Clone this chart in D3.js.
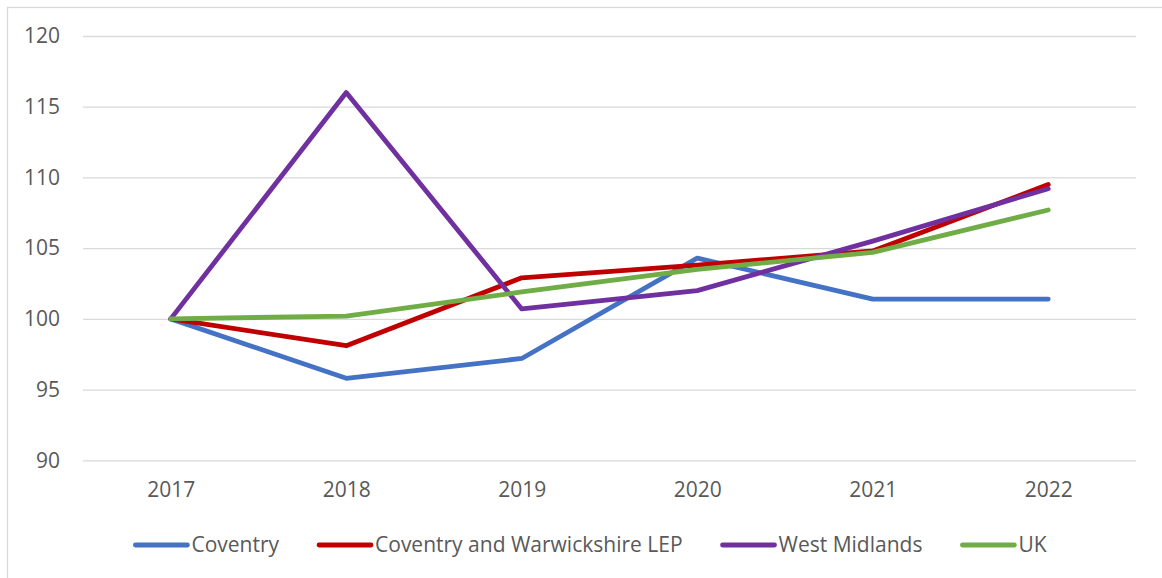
<!DOCTYPE html>
<html>
<head>
<meta charset="utf-8">
<script src="https://cdn.jsdelivr.net/npm/d3@7/dist/d3.min.js"></script>
<style>
  body { margin: 0; background: #fff; }
  svg { display: block; font-family: 'Open Sans', sans-serif; }
</style>
</head>
<body>
<svg id="chart"></svg>
<script>
const years = ['2017', '2018', '2019', '2020', '2021', '2022'];
const yTicks = [90, 95, 100, 105, 110, 115, 120];
const seriesNames = ['Coventry', 'Coventry and Warwickshire LEP', 'West Midlands', 'UK'];
const coventry = [100, 95.8, 97.2, 104.3, 101.4, 101.4];
const lep = [100, 98.1, 102.9, 103.8, 104.8, 109.5];
const westMidlands = [100, 116, 100.7, 102.0, 105.5, 109.2];
const uk = [100, 100.2, 101.9, 103.5, 104.7, 107.7];
const colors = ['#4472C4', '#C00000', '#7030A0', '#70AD47'];

const series = [coventry, lep, westMidlands, uk].map((values, i) => ({
  name: seriesNames[i], values, color: colors[i]
}));

const width = 1162;
const height = 578;
const plotLeft = 83, plotRight = 1136, plotTop = 36, plotBottom = 460.3;
const fontSize = '21px';

const svg = d3.select('#chart')
  .attr('width', width)
  .attr('height', height);

// outer chart border (cut off at right/bottom)
svg.append('rect')
  .attr('x', 7.5).attr('y', 7.5)
  .attr('width', width).attr('height', height)
  .attr('fill', 'none')
  .attr('stroke', '#d9d9d9')
  .attr('stroke-width', 1.3);

const xScale = d3.scalePoint()
  .domain(years)
  .range([plotLeft, plotRight])
  .padding(0.5);

const yScale = d3.scaleLinear()
  .domain([90, 120])
  .range([plotBottom, plotTop]);

// gridlines + y labels
const yAxis = svg.append('g')
  .attr('transform', `translate(${plotLeft}, 0)`)
  .call(d3.axisLeft(yScale).tickValues(yTicks).tickSize(-(plotRight - plotLeft)).tickPadding(23));
yAxis.select('.domain').remove();
yAxis.selectAll('.tick line').attr('stroke', '#d9d9d9').attr('stroke-width', 1.3);
yAxis.selectAll('.tick text')
  .attr('fill', '#595959')
  .style('font-size', fontSize)
  .style('font-family', "'Open Sans', sans-serif");

// x labels
const xAxis = svg.append('g')
  .attr('transform', `translate(0, ${plotBottom})`)
  .call(d3.axisBottom(xScale).tickSize(0).tickPadding(22));
xAxis.select('.domain').remove();
xAxis.selectAll('.tick text')
  .attr('fill', '#595959')
  .style('font-size', fontSize)
  .style('font-family', "'Open Sans', sans-serif");

const line = d3.line()
  .x((d, i) => xScale(years[i]))
  .y((d) => yScale(d));

svg.append('g')
  .selectAll('path')
  .data(series)
  .enter()
  .append('path')
  .attr('d', (d) => line(d.values))
  .attr('fill', 'none')
  .attr('stroke', (d) => d.color)
  .attr('stroke-width', 4.8)
  .attr('stroke-linejoin', 'round')
  .attr('stroke-linecap', 'round');

// legend, centred under the plot
const legendY = 545;
const swatch = 56;
const gap = 38;
const legend = svg.append('g');
let x = 0;
series.forEach((s) => {
  const item = legend.append('g').attr('transform', `translate(${x}, ${legendY})`);
  item.append('line')
    .attr('x1', 2).attr('x2', swatch - 2)
    .attr('stroke', s.color)
    .attr('stroke-width', 4.8)
    .attr('stroke-linecap', 'round');
  const t = item.append('text')
    .attr('x', swatch + 2)
    .attr('dy', '0.35em')
    .attr('fill', '#595959')
    .style('font-size', fontSize)
    .text(s.name);
  x += swatch + 2 + t.node().getComputedTextLength() + gap;
});
const legendWidth = x - gap;
legend.attr('transform', `translate(${(128 + 1052) / 2 - legendWidth / 2}, 0)`);
</script>
</body>
</html>
